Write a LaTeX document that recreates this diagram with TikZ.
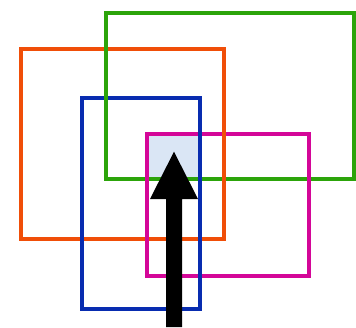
\documentclass[tikz,border=0pt]{standalone}
\begin{document}
\begin{tikzpicture}[x=1pt,y=-1pt,
  edge/.style={line width=4pt,line cap=rect}]
\definecolor{cgreen}{RGB}{44,164,10}
\definecolor{corange}{RGB}{240,78,8}
\definecolor{cblue}{RGB}{8,44,176}
\definecolor{cmag}{RGB}{212,6,152}
\definecolor{cfill}{RGB}{218,230,245}
\useasboundingbox (0,0) rectangle (356,327);
% intersection fill
\fill[cfill] (147,134.3) rectangle (200,179);
% horizontal edges first
\draw[edge,corange] (21,49.3) -- (224,49.3) (21,239.3) -- (224,239.3);
\draw[edge,cgreen] (106.3,12.7) -- (353.7,12.7) (106.3,179) -- (353.7,179);
\draw[edge,cblue] (82,97.7) -- (200,97.7) (82,308.7) -- (200,308.7);
\draw[edge,cmag] (147,134.3) -- (309,134.3) (147,276) -- (309,276);
% vertical edges on top
\draw[edge,corange] (21,49.3) -- (21,239.3) (224,49.3) -- (224,239.3);
\draw[edge,cgreen] (106.3,12.7) -- (106.3,179) (353.7,12.7) -- (353.7,179);
\draw[edge,cblue] (82,97.7) -- (82,308.7) (200,97.7) -- (200,308.7);
\draw[edge,cmag] (147,134.3) -- (147,276) (309,134.3) -- (309,276);
% arrow
\fill[black] (166,327) -- (166,199) -- (150,199) -- (174,151.7) -- (198,199) -- (182,199) -- (182,327) -- cycle;
\end{tikzpicture}
\end{document}
